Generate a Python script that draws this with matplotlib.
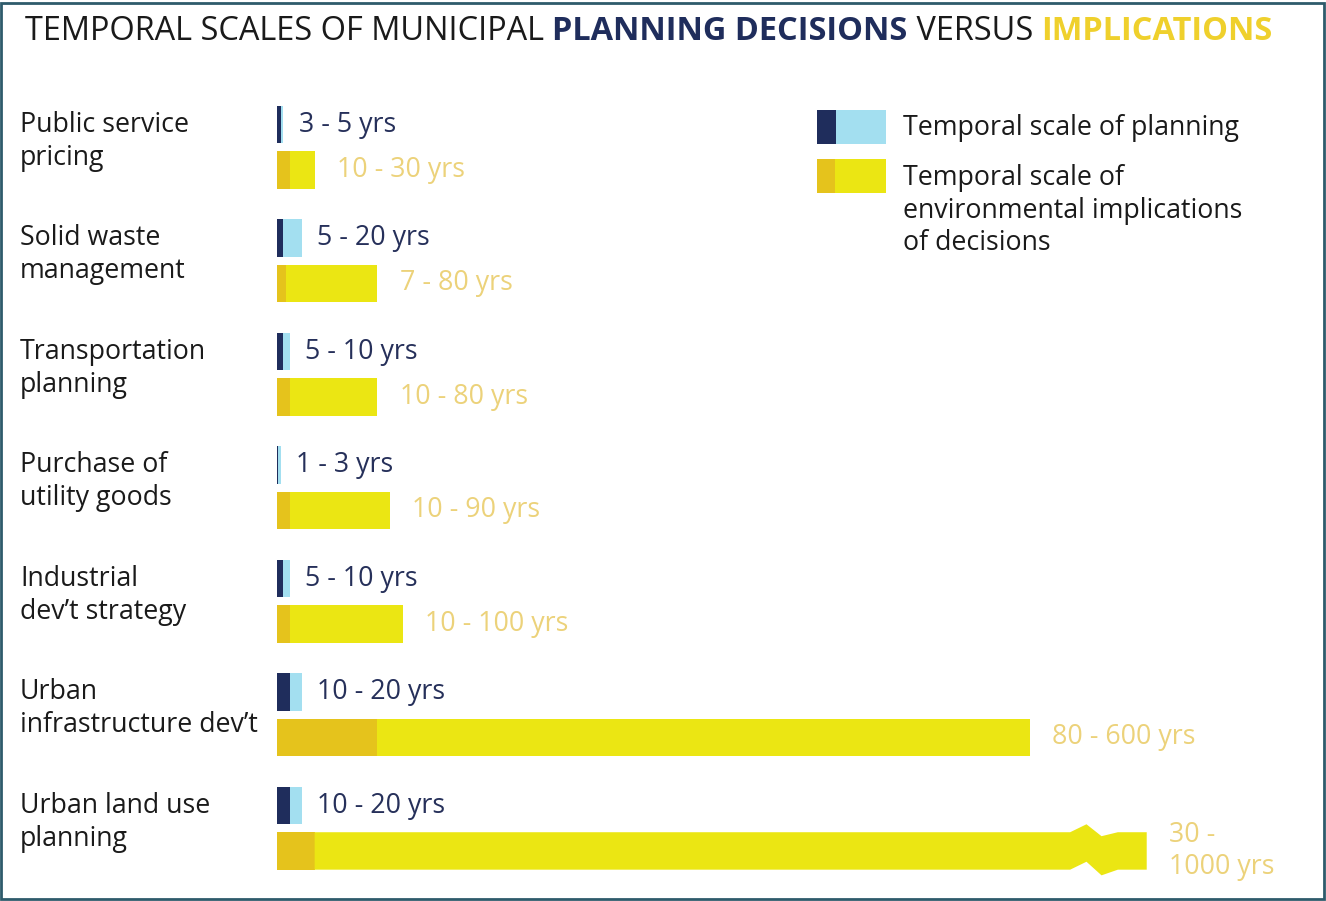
import matplotlib
matplotlib.use("Agg")
import matplotlib.pyplot as plt
from matplotlib.patches import Rectangle, Polygon

plt.rcParams['font.family'] = ['Open Sans', 'DejaVu Sans']

# data
categories = ["Public service\npricing", "Solid waste\nmanagement", "Transportation\nplanning",
              "Purchase of\nutility goods", "Industrial\ndev\u2019t strategy",
              "Urban\ninfrastructure dev\u2019t", "Urban land use\nplanning"]
plan_min = [3, 5, 5, 1, 5, 10, 10]
plan_max = [5, 20, 10, 3, 10, 20, 20]
impl_min = [10, 7, 10, 10, 10, 80, 30]
impl_max = [30, 80, 80, 90, 100, 600, 1000]
axis_cap = 693  # bars longer than this are drawn broken

NAVY = '#1f2d5c'
LIGHTBLUE = '#a3dff0'
GOLD = '#e5c31c'
YELLOW = '#ebe613'
PLAN_TXT = '#26305a'
IMPL_TXT = '#ecd27a'
TITLE_GOLD = '#efd02c'
DARK = '#1a1a1a'

W, H = 1326, 901
fig = plt.figure(figsize=(W / 100, H / 100), dpi=100)

# axes: x in years, 1.255 px per year, starting at 277 px
px_per_yr = 1.255
x0 = 277
ax = fig.add_axes([x0 / W, 0, (W - x0) / W, 1])
ax.set_xlim(0, (W - x0) / px_per_yr)
pitch = 113.5
ax.set_ylim((H - 147.25) / pitch, -147.25 / pitch)
ax.axis('off')

bh = 0.33
off = 0.2
fs = 19.3

for i, cat in enumerate(categories):
    yp = i - off
    yi = i + off
    # planning bar
    ax.barh(yp, plan_min[i], height=bh, left=0, color=NAVY, lw=0)
    ax.barh(yp, plan_max[i] - plan_min[i], height=bh, left=plan_min[i], color=LIGHTBLUE, lw=0)
    ax.annotate(f"{plan_min[i]} - {plan_max[i]} yrs", (plan_max[i], yp),
                xytext=(11, 0), textcoords='offset points', va='center', ha='left',
                fontsize=fs, color=PLAN_TXT)
    # implications bar
    ax.barh(yi, impl_min[i], height=bh, left=0, color=GOLD, lw=0)
    if impl_max[i] <= axis_cap:
        ax.barh(yi, impl_max[i] - impl_min[i], height=bh, left=impl_min[i], color=YELLOW, lw=0)
        end = impl_max[i]
        lab = f"{impl_min[i]} - {impl_max[i]} yrs"
    else:
        end = axis_cap
        top, bot = yi - bh / 2, yi + bh / 2
        bs, pk, dp, rj = end - 61, end - 48, end - 36, end - 23
        verts = [(impl_min[i], top), (bs, top), (pk, top - 0.07), (dp, top + 0.035), (rj, top),
                 (end, top), (end, bot), (rj, bot), (dp, bot + 0.05), (pk, bot - 0.07),
                 (bs, bot), (impl_min[i], bot)]
        ax.add_patch(Polygon(verts, closed=True, color=YELLOW, lw=0))
        lab = f"{impl_min[i]} -\n{impl_max[i]} yrs"
    ax.annotate(lab, (end, yi), xytext=(16, 0), textcoords='offset points',
                va='center', ha='left', fontsize=fs, color=IMPL_TXT, linespacing=1.2)
    # category label
    fig.text(20 / W, 1 - (147.25 + pitch * i - 6) / H, cat, va='center', ha='left',
             fontsize=fs, color=DARK, linespacing=1.22)

# title built from pieces
pieces = [("TEMPORAL SCALES OF MUNICIPAL ", 'normal', DARK),
          ("PLANNING DECISIONS", 'bold', NAVY),
          (" VERSUS ", 'normal', DARK),
          ("IMPLICATIONS", 'bold', TITLE_GOLD)]
renderer = fig.canvas.get_renderer()
x = 25
for txt, wt, col in pieces:
    t = fig.text(x / W, 1 - 40 / H, txt, fontsize=23.4, fontweight=wt, color=col,
                 va='baseline', ha='left')
    bb = t.get_window_extent(renderer=renderer)
    x = bb.x1

# legend
def fig_rect(xa, ya, w, h, col):
    fig.patches.append(Rectangle((xa / W, 1 - (ya + h) / H), w / W, h / H,
                                 transform=fig.transFigure, color=col, lw=0))

fig_rect(817, 110, 19, 34, NAVY)
fig_rect(836, 110, 50, 34, LIGHTBLUE)
fig_rect(817, 159, 18, 34, GOLD)
fig_rect(835, 159, 51, 34, YELLOW)
legend_lines = [("Temporal scale of planning", 135),
                ("Temporal scale of", 185),
                ("environmental implications", 218),
                ("of decisions", 250)]
for txt, base in legend_lines:
    fig.text(903 / W, 1 - base / H, txt, fontsize=fs, color=DARK, va='baseline', ha='left')

# frame
fig.patches.append(Rectangle((1 / W, 2 / H), (W - 3) / W, (H - 5) / H, transform=fig.transFigure,
                             fill=False, edgecolor='#2e5b6b', lw=2))

fig.savefig('out.png', dpi=100, facecolor='white')
